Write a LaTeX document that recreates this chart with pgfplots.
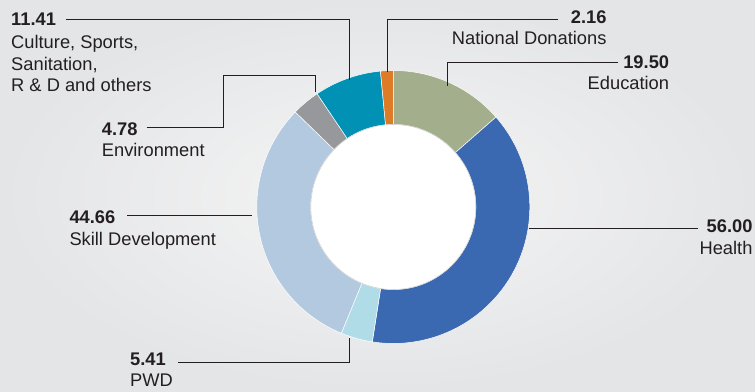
\documentclass[border=0pt]{standalone}
\usepackage{pgfplots}
\pgfplotsset{compat=1.18}
\usepackage{pgfplotstable}
\usepackage{fontspec}
\setmainfont{Liberation Sans}

\definecolor{cEdu}{RGB}{163,175,140}
\definecolor{cHealth}{RGB}{59,105,177}
\definecolor{cPWD}{RGB}{176,220,232}
\definecolor{cSkill}{RGB}{179,201,224}
\definecolor{cEnv}{RGB}{150,152,155}
\definecolor{cCult}{RGB}{0,145,181}
\definecolor{cNat}{RGB}{222,123,39}
\definecolor{bgIn}{RGB}{245,245,245}
\definecolor{bgOut}{RGB}{228,229,231}
\definecolor{lead}{RGB}{35,31,32}

% slices clockwise from 12 o'clock
\pgfplotstableread[col sep=comma]{
value,color
19.50,cEdu
56.00,cHealth
5.41,cPWD
44.66,cSkill
4.78,cEnv
11.41,cCult
2.16,cNat
}\slices

\begin{document}
\begin{tikzpicture}[every node/.style={inner sep=0pt,text=lead,font=\fontsize{18.3}{21}\selectfont}]
\pgfplotstablegetrowsof{\slices}
\pgfmathtruncatemacro\lastrow{\pgfplotsretval-1}
\gdef\total{0}
\foreach \i in {0,...,\lastrow}{%
  \pgfplotstablegetelem{\i}{value}\of\slices
  \pgfmathparse{\total+\pgfplotsretval}\xdef\total{\pgfmathresult}}
\gdef\cum{90}
\foreach \i in {0,...,\lastrow}{%
  \pgfplotstablegetelem{\i}{value}\of\slices
  \pgfmathparse{\cum-(\pgfplotsretval/\total)*360}%
  \expandafter\xdef\csname sa\i\endcsname{\cum}%
  \expandafter\xdef\csname ea\i\endcsname{\pgfmathresult}%
  \xdef\cum{\pgfmathresult}%
  \pgfplotstablegetelem{\i}{color}\of\slices
  \expandafter\xdef\csname col\i\endcsname{\pgfplotsretval}}
\begin{axis}[x=1pt,y=1pt,xmin=0,xmax=755,ymin=-391,ymax=0,
  hide axis,scale only axis,clip=false]
\shade[inner color=bgIn,outer color=bgOut] (axis cs:0,-391) rectangle (axis cs:755,0);
\pgfplotsinvokeforeach{0,...,6}{%
  \edef\doslice{\noexpand\fill[\csname col#1\endcsname,draw=white,line width=0.5pt]
   (axis cs:{393.3+136.5*cos(\csname sa#1\endcsname)},{-207+136.5*sin(\csname sa#1\endcsname)})
   arc[start angle=\csname sa#1\endcsname,end angle=\csname ea#1\endcsname,radius=136.5pt]
   -- (axis cs:{393.3+82.5*cos(\csname ea#1\endcsname)},{-207+82.5*sin(\csname ea#1\endcsname)})
   arc[start angle=\csname ea#1\endcsname,end angle=\csname sa#1\endcsname,radius=82.5pt] -- cycle;}%
  \doslice}
\fill[white,draw=black!18,line width=0.6pt] (axis cs:393.3,-207) circle[radius=82.5pt];

% leader lines
\draw[lead,line width=1pt] (axis cs:65.7,-19.3) -- (axis cs:349,-19.3) -- (axis cs:349,-80);
\draw[lead,line width=1pt] (axis cs:146.7,-127.7) -- (axis cs:223.3,-127.7) -- (axis cs:223.3,-75.7) -- (axis cs:315,-75.7) -- (axis cs:315,-92.3);
\draw[lead,line width=1pt] (axis cs:558.3,-19.3) -- (axis cs:387.5,-19.3) -- (axis cs:387.5,-72);
\draw[lead,line width=1pt] (axis cs:618.3,-62.3) -- (axis cs:447.7,-62.3) -- (axis cs:447.7,-85.7);
\draw[lead,line width=1pt] (axis cs:127.3,-216) -- (axis cs:252.3,-216);
\draw[lead,line width=1pt] (axis cs:529.3,-228.3) -- (axis cs:698.3,-228.3);
\draw[lead,line width=1pt] (axis cs:178.3,-362.3) -- (axis cs:349.3,-362.3) -- (axis cs:349.3,-338.3);

% labels
\node[anchor=base west,font=\fontsize{18.3}{21}\selectfont\bfseries] at (axis cs:11,-26) {11.41};
\node[anchor=base west] at (axis cs:11,-49) {Culture, Sports,};
\node[anchor=base west] at (axis cs:11,-70.5) {Sanitation,};
\node[anchor=base west] at (axis cs:11,-92) {R \& D and others};
\node[anchor=base west,font=\fontsize{18.3}{21}\selectfont\bfseries] at (axis cs:101.7,-136) {4.78};
\node[anchor=base west] at (axis cs:101.7,-157) {Environment};
\node[anchor=base west,font=\fontsize{18.3}{21}\selectfont\bfseries] at (axis cs:69.3,-224) {44.66};
\node[anchor=base west] at (axis cs:69.3,-245.7) {Skill Development};
\node[anchor=base west,font=\fontsize{18.3}{21}\selectfont\bfseries] at (axis cs:130,-365.7) {5.41};
\node[anchor=base west] at (axis cs:130,-386.7) {PWD};
\node[anchor=base east,font=\fontsize{18.3}{21}\selectfont\bfseries] at (axis cs:606.7,-23.3) {2.16};
\node[anchor=base east] at (axis cs:606.7,-44.3) {National Donations};
\node[anchor=base east,font=\fontsize{18.3}{21}\selectfont\bfseries] at (axis cs:669.3,-68.3) {19.50};
\node[anchor=base east] at (axis cs:669.3,-90) {Education};
\node[anchor=base east,font=\fontsize{18.3}{21}\selectfont\bfseries] at (axis cs:752.7,-232.3) {56.00};
\node[anchor=base east] at (axis cs:752.7,-254.3) {Health};
\end{axis}
\end{tikzpicture}
\end{document}
